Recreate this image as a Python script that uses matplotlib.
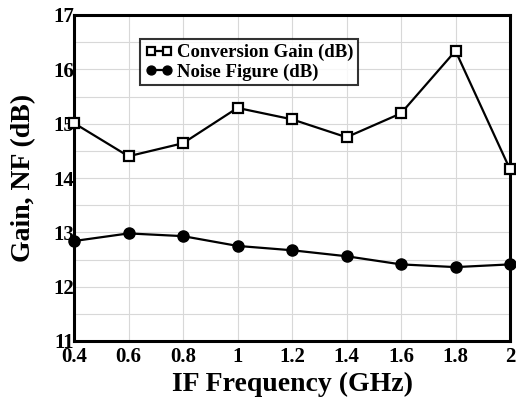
import numpy as np
import matplotlib
matplotlib.use("Agg")
import matplotlib.pyplot as plt
from matplotlib.ticker import MultipleLocator

freq = [0.4, 0.6, 0.8, 1.0, 1.2, 1.4, 1.6, 1.8, 2.0]
gain = [15.01, 14.40, 14.64, 15.29, 15.08, 14.75, 15.19, 16.34, 14.16]
nf = [12.84, 12.98, 12.93, 12.75, 12.67, 12.56, 12.41, 12.36, 12.41]
xticks = [0.4, 0.6, 0.8, 1.0, 1.2, 1.4, 1.6, 1.8, 2.0]
xticklabels = ["0.4", "0.6", "0.8", "1", "1.2", "1.4", "1.6", "1.8", "2"]
yticks = [11, 12, 13, 14, 15, 16, 17]


def main():
    plt.rcParams["font.family"] = ["Liberation Serif", "DejaVu Serif"]
    plt.rcParams["font.weight"] = "bold"
    fig = plt.figure(figsize=(5.16, 3.99), dpi=100)
    ax = fig.add_axes([74 / 516, 1 - 341 / 399, 436 / 516, 326 / 399])

    ax.plot(freq, gain, color="black", linewidth=1.6, marker="s", markersize=7,
            markerfacecolor="white", markeredgecolor="black", markeredgewidth=1.6,
            label="Conversion Gain (dB)", clip_on=False, zorder=3)
    ax.plot(freq, nf, color="black", linewidth=1.6, marker="o", markersize=8,
            markerfacecolor="black", markeredgecolor="black",
            label="Noise Figure (dB)", clip_on=False, zorder=3)

    ax.set_xlim(0.4, 2.0)
    ax.set_ylim(11, 17)
    ax.set_xticks(xticks)
    ax.set_xticklabels(xticklabels)
    ax.set_yticks(yticks)
    ax.yaxis.set_minor_locator(MultipleLocator(0.5))
    ax.grid(True, which="both", color="#d8d8d8", linewidth=0.8)
    ax.set_axisbelow(True)
    ax.tick_params(axis="both", which="both", length=0, labelsize=15)
    ax.tick_params(axis="y", pad=0)
    ax.tick_params(axis="x", pad=4)
    for s in ax.spines.values():
        s.set_linewidth(2.2)

    ax.set_xlabel("IF Frequency (GHz)", fontsize=20, fontweight="bold", labelpad=4)
    ax.set_ylabel("Gain, NF (dB)", fontsize=20, fontweight="bold", labelpad=12)

    leg = ax.legend(loc="upper left", bbox_to_anchor=(0.152, 0.925), numpoints=2,
                    fontsize=13.5, frameon=True, fancybox=False, borderpad=0.25,
                    handlelength=1.5, handletextpad=0.2, labelspacing=0.1,
                    markerscale=0.8, borderaxespad=0)
    leg.get_frame().set_edgecolor("black")
    leg.get_frame().set_linewidth(1.5)

    fig.savefig("out.png", dpi=100)
    plt.close(fig)


if __name__ == "__main__":
    main()
